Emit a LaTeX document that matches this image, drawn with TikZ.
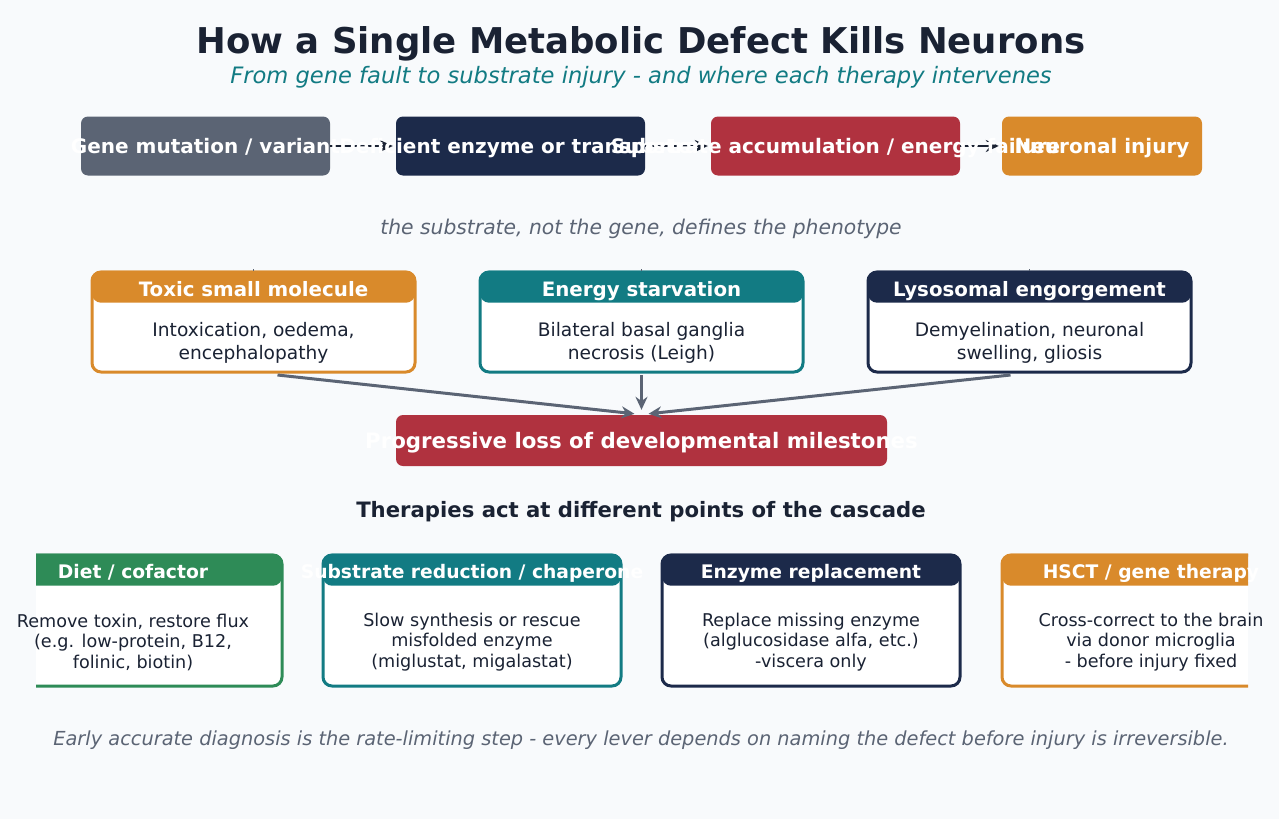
\documentclass[tikz,border=0pt]{standalone}
\usepackage{fontspec}
\setmainfont{DejaVu Sans}
\usetikzlibrary{arrows.meta}
\definecolor{bg}{HTML}{F8FAFC}
\definecolor{ink}{HTML}{1A2233}
\definecolor{slate}{HTML}{5B6474}
\definecolor{navy}{HTML}{1C2A4A}
\definecolor{crimson}{HTML}{B0323F}
\definecolor{amber}{HTML}{D98A2B}
\definecolor{tealc}{HTML}{127B83}
\definecolor{greenc}{HTML}{2E8B57}
\tikzset{
  topbox/.style={rounded corners=7pt, inner sep=0pt, minimum height=59pt, minimum width=249pt},
  toptext/.style={text=white, font=\bfseries\fontsize{20}{24}\selectfont, inner sep=0pt, anchor=base},
  midbox/.style={rounded corners=9pt, inner sep=0pt, minimum height=100pt, minimum width=323pt, fill=white, line width=3pt},
  midhdr/.style={rounded corners=9pt, inner sep=0pt, minimum height=32pt, minimum width=323pt, anchor=north},
  midhtext/.style={text=white, font=\bfseries\fontsize{19.8}{23}\selectfont, inner sep=0pt, anchor=base},
  midbody/.style={text=ink, font=\fontsize{18.6}{23}\selectfont, align=center, inner sep=0pt},
  botbox/.style={rounded corners=9pt, inner sep=0pt, minimum height=131pt, minimum width=298pt, fill=white, line width=3pt},
  bothdr/.style={rounded corners=9pt, inner sep=0pt, minimum height=32pt, minimum width=298pt, anchor=north},
  bothtext/.style={text=white, font=\bfseries\fontsize{18.7}{22}\selectfont, inner sep=0pt, anchor=base},
  botbody/.style={text=ink, font=\fontsize{17.6}{20.5}\selectfont, align=center, inner sep=0pt},
  toparrow/.style={draw=ink, line width=2.5pt, -{Stealth[length=13pt,width=12pt]}, shorten >=3pt},
  midarrow/.style={draw=slate, line width=3pt, -{Stealth[length=13pt,width=12pt]}},
}
\begin{document}
\begin{tikzpicture}[x=1pt,y=-1pt]
\fill[bg] (0,0) rectangle (1279,819);
\useasboundingbox (0,0) rectangle (1279,819);

% title
\node[text=ink, font=\bfseries\fontsize{35.5}{40}\selectfont, inner sep=0pt] (title) at (641,44) {How a Single Metabolic Defect Kills Neurons};
\node[text=tealc, font=\itshape\fontsize{22.6}{26}\selectfont, inner sep=0pt] (subtitle) at (641,77) {From gene fault to substrate injury - and where each therapy intervenes};

% top row boxes
\node[topbox, fill=slate] (g1) at (205.5,146) {};
\node[topbox, fill=navy] (g2) at (520.5,146) {};
\node[topbox, fill=crimson] (g3) at (835.5,146) {};
\node[topbox, fill=amber, minimum width=200pt] (g4) at (1102,146) {};
\draw[toparrow] (g1.east) -- (g2.west);
\draw[toparrow] (g2.east) -- (g3.west);
\draw[toparrow] (g3.east) -- (g4.west);
\node[toptext] at ([yshift=-7pt]g1.center) {Gene mutation / variant};
\node[toptext] at ([yshift=-7pt]g2.center) {Deficient enzyme or transporter};
\node[toptext] at ([yshift=-7pt]g3.center) {Substrate accumulation / energy failure};
\node[toptext] at ([yshift=-7pt]g4.center) {Neuronal injury};

% caption
\node[text=slate, font=\itshape\fontsize{20.3}{24}\selectfont, inner sep=0pt] (cap) at (641,229) {the substrate, not the gene, defines the phenotype};

% middle boxes
\node[midbox, draw=amber] (ma) at (253.5,322) {};
\node[midbox, draw=tealc] (mb) at (641.5,322) {};
\node[midbox, draw=navy] (mc) at (1029.5,322) {};
\node[midhdr, fill=amber] (ha) at (ma.north) {};
\node[midhdr, fill=tealc] (hb) at (mb.north) {};
\node[midhdr, fill=navy] (hc) at (mc.north) {};
\node[midhtext] at (253.5,296) {Toxic small molecule};
\node[midhtext] at (641.5,296) {Energy starvation};
\node[midhtext] at (1029.5,296) {Lysosomal engorgement};
\node[midbody] at (253.5,343) {Intoxication, oedema,\\encephalopathy};
\node[midbody] at (641.5,343) {Bilateral basal ganglia\\necrosis (Leigh)};
\node[midbody] at (1029.5,343) {Demyelination, neuronal\\swelling, gliosis};
\draw[slate, line width=1.5pt] ([yshift=1.5pt]ha.north) -- ([yshift=0pt]ha.north);
\draw[slate, line width=1.5pt] ([yshift=1.5pt]hb.north) -- ([yshift=0pt]hb.north);
\draw[slate, line width=1.5pt] ([yshift=1.5pt]hc.north) -- ([yshift=0pt]hc.north);

% outcome
\node[rounded corners=7pt, inner sep=0pt, minimum width=491pt, minimum height=51pt, fill=crimson] (out) at (641.5,440.5) {};
\draw[midarrow] ([xshift=24pt,yshift=-1.5pt]ma.south) -- ([xshift=-7pt,yshift=1pt]out.north);
\draw[midarrow] ([yshift=-1.5pt]mb.south) -- ([yshift=5pt]out.north);
\draw[midarrow] ([xshift=-19pt,yshift=-1.5pt]mc.south) -- ([xshift=7pt,yshift=1pt]out.north);
\node[toptext, font=\bfseries\fontsize{21.3}{25}\selectfont] at ([yshift=-7.5pt]out.center) {Progressive loss of developmental milestones};

% therapies heading
\node[text=ink, font=\bfseries\fontsize{21.2}{25}\selectfont, inner sep=0pt] (th) at (641,512) {Therapies act at different points of the cascade};

% bottom boxes (clipped)
\begin{scope}
\clip (36,0) rectangle (1248,819);
\node[botbox, draw=greenc] (b1) at (133,620.5) {};
\node[botbox, draw=tealc] (b2) at (472,620.5) {};
\node[botbox, draw=navy] (b3) at (811,620.5) {};
\node[botbox, draw=amber] (b4) at (1151,620.5) {};
\node[bothdr, fill=greenc] at (b1.north) {};
\node[bothdr, fill=tealc] at (b2.north) {};
\node[bothdr, fill=navy] at (b3.north) {};
\node[bothdr, fill=amber] at (b4.north) {};
\end{scope}
\node[bothtext] at (133,578.5) {Diet / cofactor};
\node[bothtext] at (472,578.5) {Substrate reduction / chaperone};
\node[bothtext] at (811,578.5) {Enzyme replacement};
\node[bothtext] at (1151,578.5) {HSCT / gene therapy};
\node[botbody] at (133,642) {Remove toxin, restore flux\\(e.g. low-protein, B12,\\folinic, biotin)};
\node[botbody] at (472,642) {Slow synthesis or rescue\\misfolded enzyme\\(miglustat, migalastat)};
\node[botbody] at (811,642) {Replace missing enzyme\\(alglucosidase alfa, etc.)\\-viscera only};
\node[botbody] at (1151,642) {Cross-correct to the brain\\via donor microglia\\- before injury fixed};

% footer
\node[text=slate, font=\itshape\fontsize{19.35}{23}\selectfont, inner sep=0pt] (foot) at (641,740) {Early accurate diagnosis is the rate-limiting step - every lever depends on naming the defect before injury is irreversible.};
\end{tikzpicture}
\end{document}
